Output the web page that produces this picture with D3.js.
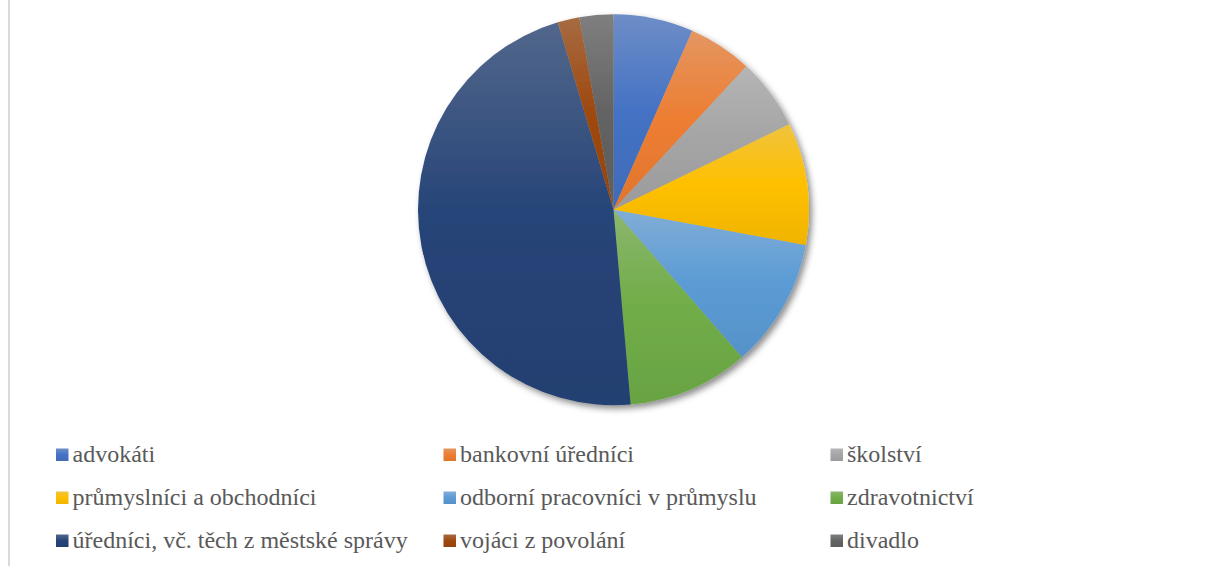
<!DOCTYPE html>
<html>
<head>
<meta charset="utf-8">
<script src="https://cdn.jsdelivr.net/npm/d3@7"></script>
<style>
  html, body { margin: 0; padding: 0; background: #ffffff; }
  svg { display: block; }
</style>
</head>
<body>
<svg id="chart" width="1208" height="566"></svg>
<script>
const categories = [
  "advokáti",
  "bankovní úředníci",
  "školství",
  "průmyslníci a obchodníci",
  "odborní pracovníci v průmyslu",
  "zdravotnictví",
  "úředníci, vč. těch z městské správy",
  "vojáci z povolání",
  "divadlo"
];
const values = [6.6, 5.3, 5.9, 10.1, 10.7, 10.0, 46.8, 1.8, 2.8];
const colors = ["#4472C4", "#ED7D31", "#A5A5A5", "#FFC000", "#5B9BD5", "#70AD47", "#264478", "#9E480E", "#636363"];

const W = 1208, H = 566;
const cx = 613.5, cy = 209.7, R = 195.5;

const svg = d3.select("#chart");
svg.append("rect").attr("width", W).attr("height", H).attr("fill", "#ffffff");
svg.append("line").attr("x1", 9).attr("x2", 9).attr("y1", 0).attr("y2", H)
  .attr("stroke", "#d9d9d9").attr("stroke-width", 2);

const defs = svg.append("defs");
const f = defs.append("filter").attr("id", "shadow")
  .attr("x", "-10%").attr("y", "-10%").attr("width", "125%").attr("height", "125%");
f.append("feDropShadow").attr("dx", 3).attr("dy", 3.5).attr("stdDeviation", 3.2)
  .attr("flood-color", "#000").attr("flood-opacity", 0.45);

function lighten(c, t) {
  const mixed = d3.rgb(d3.interpolateRgb(c, "#ffffff")(t));
  const h = d3.hsl(mixed);
  h.s = h.s * 0.85;
  return h.formatHex();
}
function darken(c, t) {
  return d3.rgb(d3.interpolateRgb(c, "#000000")(t)).formatHex();
}

colors.forEach((c, i) => {
  const g = defs.append("linearGradient").attr("id", "g" + i)
    .attr("x1", 0).attr("y1", 0).attr("x2", 0).attr("y2", 1);
  g.append("stop").attr("offset", "0%").attr("stop-color", lighten(c, 0.18));
  g.append("stop").attr("offset", "50%").attr("stop-color", c);
  g.append("stop").attr("offset", "100%").attr("stop-color", darken(c, 0.06));
});

const pie = d3.pie().sort(null).value(d => d)(values);
const arc = d3.arc().innerRadius(0).outerRadius(R);

const gp = svg.append("g").attr("transform", `translate(${cx},${cy})`)
  .attr("filter", "url(#shadow)");
gp.selectAll("path").data(pie).join("path")
  .attr("d", arc)
  .attr("fill", (d, i) => `url(#g${i})`);

const colX = [56, 443.5, 830.5];
const rowBase = [462, 505, 548];
const sw = 12.5;
const leg = svg.append("g");
categories.forEach((name, i) => {
  const col = i % 3, row = Math.floor(i / 3);
  const x = colX[col], y = rowBase[row];
  leg.append("rect").attr("x", x).attr("y", y - 13.5).attr("width", sw).attr("height", sw)
    .attr("fill", `url(#g${i})`);
  leg.append("text").attr("x", x + 16.5).attr("y", y)
    .style("font-family", '"Liberation Serif"')
    .style("font-size", "24px")
    .attr("fill", "#595959")
    .text(name);
});
</script>
</body>
</html>
